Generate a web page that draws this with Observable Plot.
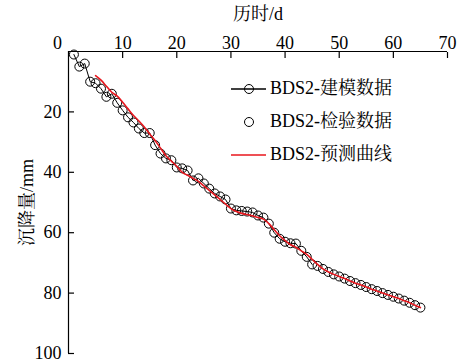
<!DOCTYPE html>
<html><head><meta charset="utf-8">
<script src="https://cdn.jsdelivr.net/npm/d3@7"></script>
<script src="https://cdn.jsdelivr.net/npm/@observablehq/plot@0.6"></script>
<style>
body{margin:0;background:#fff;}
#wrap{position:relative;width:465px;height:364px;font-family:"Liberation Serif",Tinos,"Times New Roman","DejaVu Serif","Noto Serif CJK SC","Noto Sans CJK SC",serif;color:#000;}
#legend{position:absolute;left:230px;top:72px;font-size:18px;line-height:33px;}
#legend .row{display:flex;align-items:center;white-space:nowrap;}
#legend svg{width:38px;height:16px;margin-right:2px;}
</style></head><body><div id="wrap"></div>
<script>
// 建模数据 (modeling data)
const modelDays = [1,2,3,4,5,6,7,8,9,10,11,12,13,14,15,16,17,18,19,20,21,22,23,24,25,26,27,28,29,30,31,32,33,34,35,36,37,38,39,40,41,42,43,44,45];
const modelValues = [1,5,4,10,10.5,12.3,15,14,17,19.5,21.8,23.5,25.5,27,27,31,33.8,35.4,36,38.4,38.7,39.4,42.7,42,43.7,45.4,47,48,49,52,52.6,52.8,53,53.3,54.3,55,57,60,62,63,63.5,63.6,66,68,70.5];
// 检验数据 (validation data)
const checkDays = [46,47,48,49,50,51,52,53,54,55,56,57,58,59,60,61,62,63,64,65];
const checkValues = [71,72,73,73.8,74.5,75.2,76,76.7,77.3,78,78.7,79.3,80,80.6,81.2,81.8,82.5,83.2,84,84.8];
// 预测曲线 (prediction curve)
const predDays = [5,6,7,8,9,10,11,12,13,14,15,16,17,18,19,20,21,22,23,24,25,26,27,28,29,30,31,32,33,34,35,36,37,38,39,40,41,42,43,44,45,46,47,48,49,50,51,52,53,54,55,56,57,58,59,60,61,62,63,64,65];
const predValues = [8,9.5,11.5,13.5,14.8,16.8,19,21.2,23,25,27.3,29.5,32,34.5,36.3,38,40,41,42,43,44.5,46,47.5,49,50.5,52,53,53.6,54,54.4,55,55.5,57,59,61,62.6,64,64.8,66,67.2,68.8,70.5,72,73,73.8,74.5,75.2,76,76.7,77.3,78,78.7,79.3,80,80.6,81.2,81.8,82.5,83.2,84,84.8];
const xTicks = [0,10,20,30,40,50,60,70];
const yTicks = [20,40,60,80,100];

const model = modelDays.map((d,i)=>({d, v:modelValues[i]}));
const check = checkDays.map((d,i)=>({d, v:checkValues[i]}));
const pred = predDays.map((d,i)=>({d, v:predValues[i]}));

const FONT = '"Liberation Serif",Tinos,"Times New Roman","DejaVu Serif","Noto Serif CJK SC","Noto Sans CJK SC",serif';
const chart = Plot.plot({
  width:465, height:364,
  marginLeft:68, marginRight:18, marginTop:51, marginBottom:11,
  style:{fontFamily:FONT, fontSize:"18px", color:"#000", background:"#fff"},
  x:{domain:[0,70]},
  y:{domain:[0,100], reverse:true},
  marks:[
    Plot.ruleY([0], {stroke:"#000", strokeWidth:1.2}),
    Plot.ruleX([0], {stroke:"#000", strokeWidth:1.2}),
    Plot.axisX({anchor:"top", ticks:xTicks.slice(1), tickSize:6, dy:6, text:null, label:null, strokeWidth:1.2}),
    Plot.axisX({anchor:"top", ticks:xTicks.slice(1), tickSize:0, tickPadding:3, label:"历时/d", labelAnchor:"center", labelOffset:44, labelArrow:"none", fontSize:18}),
    Plot.axisX({anchor:"top", ticks:xTicks.slice(0,1), tickSize:0, tickPadding:3, dx:-11, label:null, fontSize:18}),
    Plot.axisY({anchor:"left", ticks:yTicks, tickSize:6, dx:6, text:null, label:null, strokeWidth:1.2}),
    Plot.axisY({anchor:"left", ticks:yTicks, tickSize:0, tickPadding:7, label:"沉降量/mm", labelAnchor:"center", labelOffset:48, labelArrow:"none", fontSize:18}),
    Plot.line(model, {x:"d", y:"v", stroke:"#000", strokeWidth:1}),
    Plot.dot(model, {x:"d", y:"v", r:4.5, stroke:"#000", strokeWidth:1, fill:"none"}),
    Plot.dot(check, {x:"d", y:"v", r:4.5, stroke:"#000", strokeWidth:1, fill:"none"}),
    Plot.line(pred, {x:"d", y:"v", stroke:"#e8161d", strokeWidth:1.6, curve:"catmull-rom"})
  ]
});
const wrap = document.getElementById("wrap");
wrap.appendChild(chart);

const legendItems = [
  {label:"BDS2-建模数据", line:"#000", dot:true},
  {label:"BDS2-检验数据", line:null, dot:true},
  {label:"BDS2-预测曲线", line:"#e8161d", dot:false}
];
const lg = document.createElement("div");
lg.id = "legend";
for (const it of legendItems) {
  const row = document.createElement("div");
  row.className = "row";
  let s = '<svg viewBox="0 0 38 16">';
  if (it.line) s += `<line x1="1" x2="36" y1="8" y2="8" stroke="${it.line}" stroke-width="1.3"/>`;
  if (it.dot) s += '<circle cx="19" cy="8" r="4.5" fill="none" stroke="#000" stroke-width="1"/>';
  s += '</svg>';
  row.innerHTML = s + `<span>${it.label}</span>`;
  lg.appendChild(row);
}
wrap.appendChild(lg);
</script>
</body></html>
